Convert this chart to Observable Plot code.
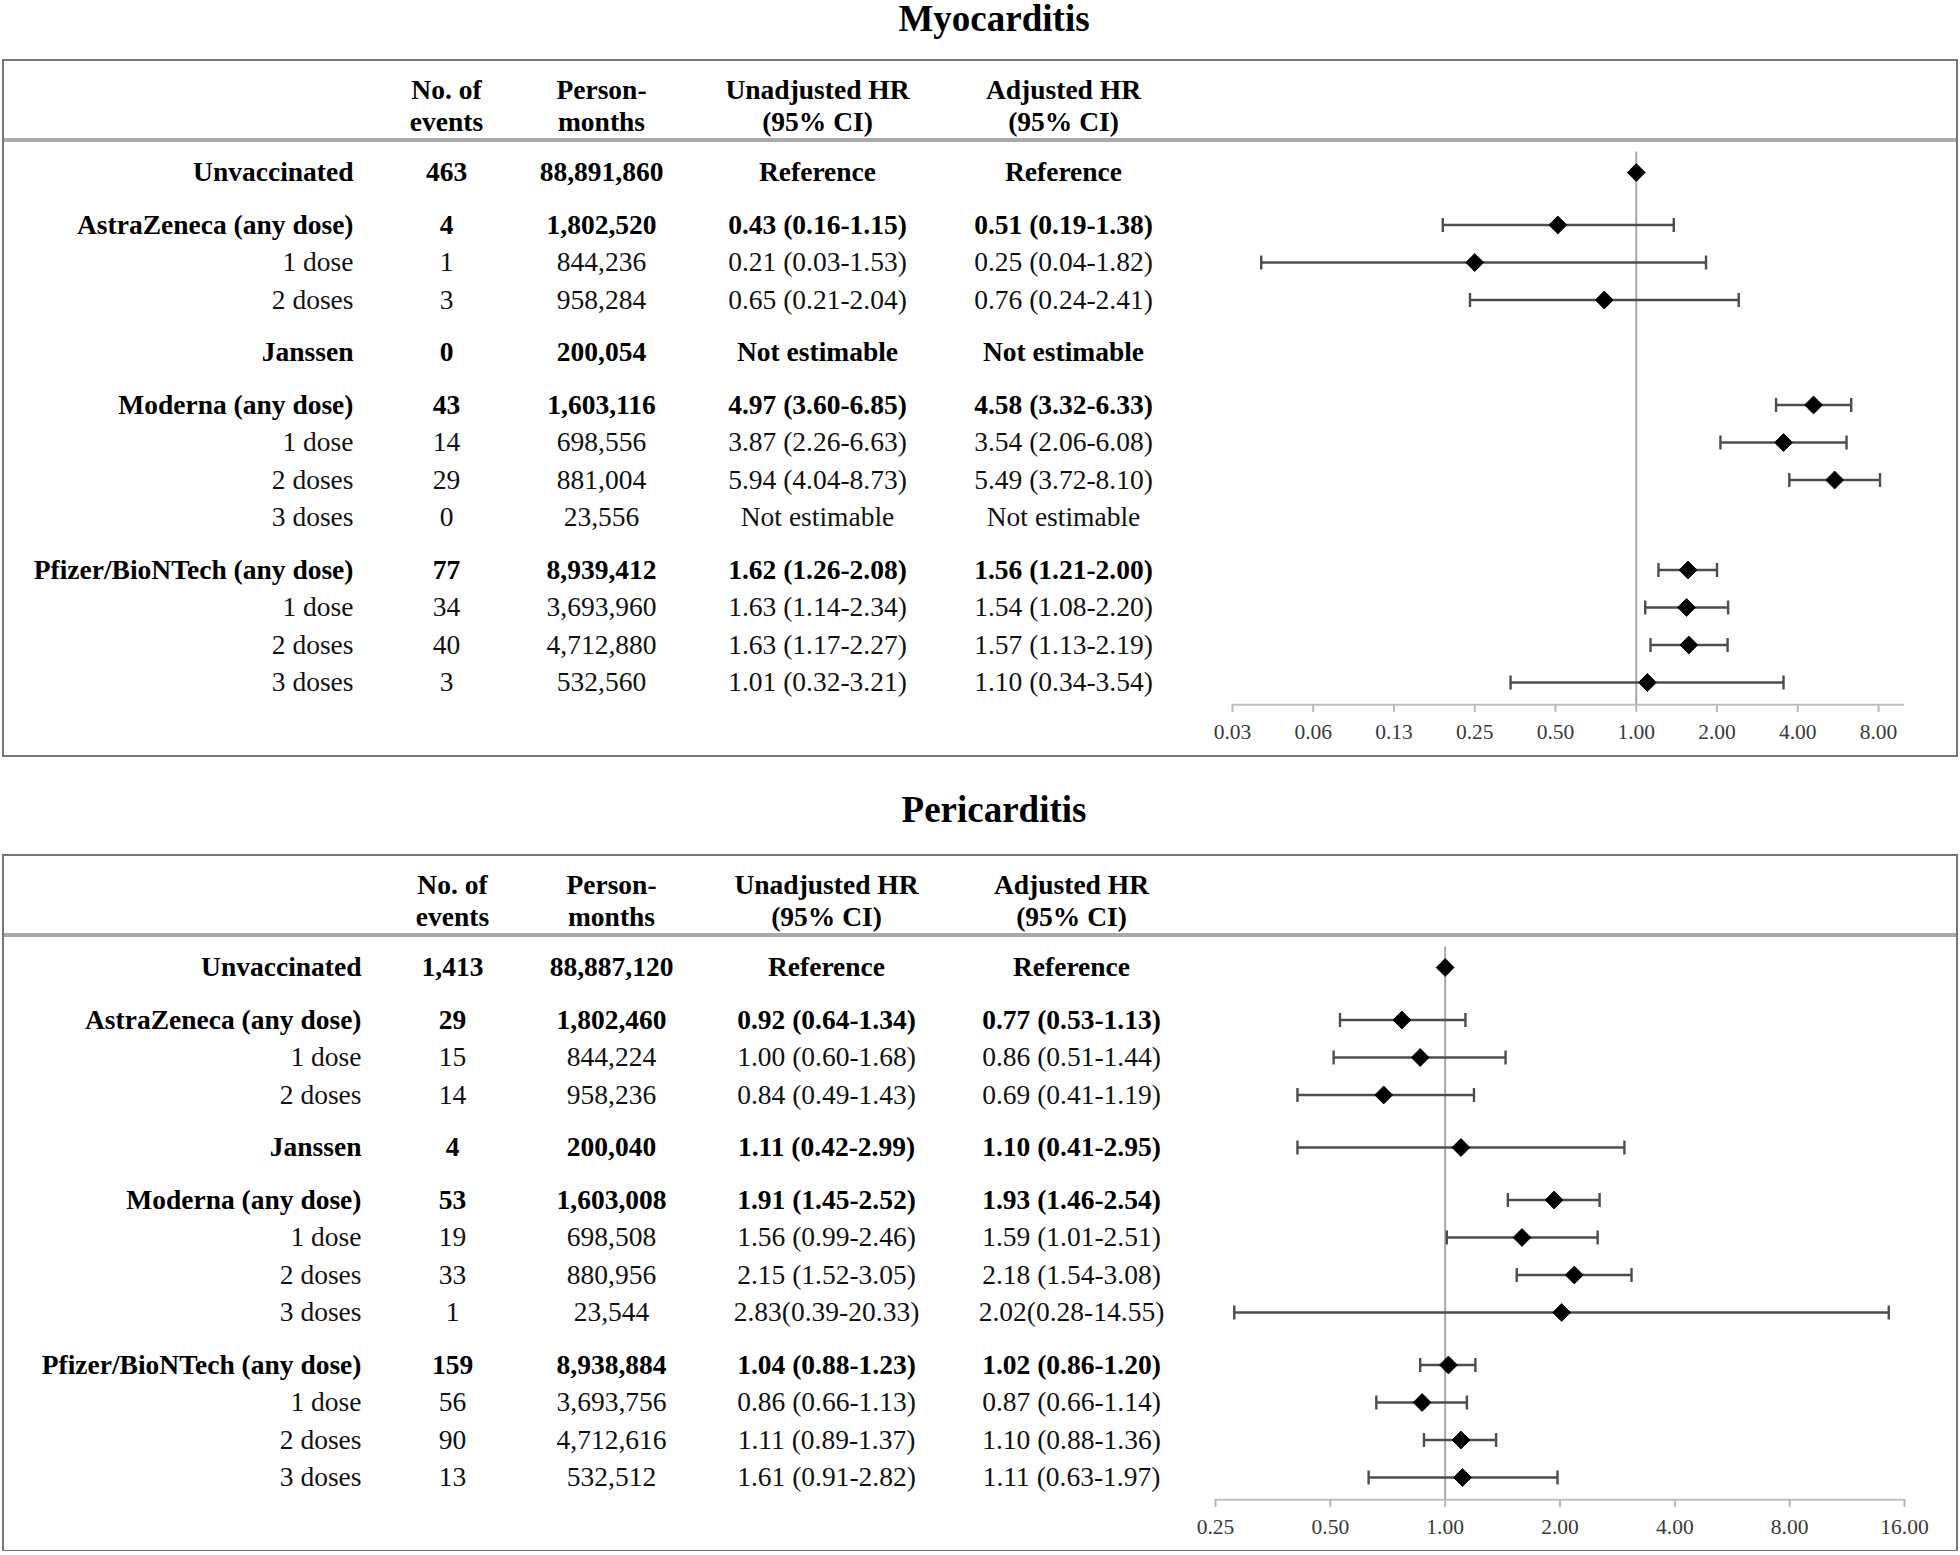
<!DOCTYPE html>
<html><head><meta charset="utf-8">
<script src="https://cdn.jsdelivr.net/npm/d3@7"></script>
<script src="https://cdn.jsdelivr.net/npm/@observablehq/plot@0.6"></script>
<style>
body{margin:0;background:#fff;width:1960px;height:1555px;position:relative;overflow:hidden;font-family:"Liberation Serif","Times New Roman",serif;}
.title{position:absolute;left:0;width:1988px;text-align:center;font-weight:bold;font-size:37px;line-height:36px;height:36px;color:#000;}
.box{position:absolute;left:2px;width:1956px;box-sizing:border-box;border:2px solid #777;background:#fff;}
.box svg{display:block;}
</style></head><body>
<div class="title" style="top:1px">Myocarditis</div>
<div class="box" id="b1" style="top:59px;height:698px"></div>
<div class="title" style="top:792px">Pericarditis</div>
<div class="box" id="b2" style="top:854px;height:697px"></div>
<script>
// ---- shared categories ----
const rowLabels = ["Unvaccinated","AstraZeneca (any dose)","1 dose","2 doses","Janssen","Moderna (any dose)","1 dose","2 doses","3 doses","Pfizer/BioNTech (any dose)","1 dose","2 doses","3 doses"];
const rowIsGroup = [true,true,false,false,true,true,false,false,false,true,false,false,false];
const headerLabels = ["No. of\nevents","Person-\nmonths","Unadjusted HR\n(95% CI)","Adjusted HR\n(95% CI)"];

// ---- Myocarditis ----
const myoEvents = ["463","4","1","3","0","43","14","29","0","77","34","40","3"];
const myoPersonMonths = ["88,891,860","1,802,520","844,236","958,284","200,054","1,603,116","698,556","881,004","23,556","8,939,412","3,693,960","4,712,880","532,560"];
const myoUnadjusted = ["Reference","0.43 (0.16-1.15)","0.21 (0.03-1.53)","0.65 (0.21-2.04)","Not estimable","4.97 (3.60-6.85)","3.87 (2.26-6.63)","5.94 (4.04-8.73)","Not estimable","1.62 (1.26-2.08)","1.63 (1.14-2.34)","1.63 (1.17-2.27)","1.01 (0.32-3.21)"];
const myoAdjusted = ["Reference","0.51 (0.19-1.38)","0.25 (0.04-1.82)","0.76 (0.24-2.41)","Not estimable","4.58 (3.32-6.33)","3.54 (2.06-6.08)","5.49 (3.72-8.10)","Not estimable","1.56 (1.21-2.00)","1.54 (1.08-2.20)","1.57 (1.13-2.19)","1.10 (0.34-3.54)"];
const myoHR = [1,0.51,0.25,0.76,null,4.58,3.54,5.49,null,1.56,1.54,1.57,1.10];
const myoLo = [null,0.19,0.04,0.24,null,3.32,2.06,3.72,null,1.21,1.08,1.13,0.34];
const myoHi = [null,1.38,1.82,2.41,null,6.33,6.08,8.10,null,2.00,2.20,2.19,3.54];
const myoTicks = [1/32,1/16,1/8,1/4,1/2,1,2,4,8];
const myoTickLabels = ["0.03","0.06","0.13","0.25","0.50","1.00","2.00","4.00","8.00"];
const myoDomain = [1/32, 10];

// ---- Pericarditis ----
const periEvents = ["1,413","29","15","14","4","53","19","33","1","159","56","90","13"];
const periPersonMonths = ["88,887,120","1,802,460","844,224","958,236","200,040","1,603,008","698,508","880,956","23,544","8,938,884","3,693,756","4,712,616","532,512"];
const periUnadjusted = ["Reference","0.92 (0.64-1.34)","1.00 (0.60-1.68)","0.84 (0.49-1.43)","1.11 (0.42-2.99)","1.91 (1.45-2.52)","1.56 (0.99-2.46)","2.15 (1.52-3.05)","2.83(0.39-20.33)","1.04 (0.88-1.23)","0.86 (0.66-1.13)","1.11 (0.89-1.37)","1.61 (0.91-2.82)"];
const periAdjusted = ["Reference","0.77 (0.53-1.13)","0.86 (0.51-1.44)","0.69 (0.41-1.19)","1.10 (0.41-2.95)","1.93 (1.46-2.54)","1.59 (1.01-2.51)","2.18 (1.54-3.08)","2.02(0.28-14.55)","1.02 (0.86-1.20)","0.87 (0.66-1.14)","1.10 (0.88-1.36)","1.11 (0.63-1.97)"];
const periHR = [1,0.77,0.86,0.69,1.10,1.93,1.59,2.18,2.02,1.02,0.87,1.10,1.11];
const periLo = [null,0.53,0.51,0.41,0.41,1.46,1.01,1.54,0.28,0.86,0.66,0.88,0.63];
const periHi = [null,1.13,1.44,1.19,2.95,2.54,2.51,3.08,14.55,1.20,1.14,1.36,1.97];
const periTicks = [0.25,0.5,1,2,4,8,16];
const periTickLabels = ["0.25","0.50","1.00","2.00","4.00","8.00","16.00"];
const periDomain = [0.25, 16];

// ---- layout ----
const W = 1952, H = 694;
const FONT = "'Liberation Serif','Times New Roman',serif";
const slots = [];
{ let s = 0; rowIsGroup.forEach((g, i) => { if (i > 0) s += g ? 1.4 : 1; slots.push(s); }); }
const SLOT_HEADER_TEXT = -1.81, SLOT_HEADER_LINE = -0.87, SLOT_REF_TOP = -0.55, SLOT_AXIS = 14.19;

const capSymbol = { draw(ctx, size) { const h = Math.sqrt(size / Math.PI); ctx.moveTo(0, -h); ctx.lineTo(0, h); } };

function panel(spec) {
  const rows = rowLabels.map((label, i) => ({
    label, group: rowIsGroup[i], slot: slots[i],
    events: spec.events[i], pm: spec.pm[i], unadj: spec.unadj[i], adj: spec.adj[i],
    hr: spec.hr[i], lo: spec.lo[i], hi: spec.hi[i]
  }));
  const cols = [
    {key: "label", dx: spec.colX[0], anchor: "end"},
    {key: "events", dx: spec.colX[1], anchor: "middle", header: headerLabels[0]},
    {key: "pm", dx: spec.colX[2], anchor: "middle", header: headerLabels[1]},
    {key: "unadj", dx: spec.colX[3], anchor: "middle", header: headerLabels[2]},
    {key: "adj", dx: spec.colX[4], anchor: "middle", header: headerLabels[3]}
  ];
  const marks = [];
  marks.push(Plot.ruleY([SLOT_HEADER_LINE], {stroke: "#a9a9a9", strokeWidth: 4}));
  for (const c of cols) {
    if (c.header) marks.push(Plot.text([c.header], {text: d => d, y: () => SLOT_HEADER_TEXT, frameAnchor: "left", dx: c.dx, textAnchor: "middle", lineHeight: 1.17, fontSize: 27.5, fontWeight: "bold", fontFamily: FONT, fill: "#000"}));
    marks.push(Plot.text(rows, {filter: d => d.group, text: c.key, y: "slot", frameAnchor: "left", dx: c.dx, textAnchor: c.anchor, fontSize: 27.5, fontWeight: "bold", fontFamily: FONT, fill: "#000"}));
    marks.push(Plot.text(rows, {filter: d => !d.group, text: c.key, y: "slot", frameAnchor: "left", dx: c.dx, textAnchor: c.anchor, fontSize: 27.5, fontFamily: FONT, fill: "#111"}));
  }
  const ci = rows.filter(d => d.lo != null && d.hi != null);
  marks.push(
    Plot.ruleX([1], {y1: () => SLOT_REF_TOP, y2: () => SLOT_AXIS, stroke: "#a8a8a8", strokeWidth: 2}),
    Plot.ruleY([SLOT_AXIS], {x1: () => spec.domain[0], x2: () => spec.domain[1], stroke: "#c0c0c0", strokeWidth: 2}),
    Plot.axisX(spec.ticks, {anchor: "bottom", tickSize: 8, tickFormat: () => "", color: "#b8b8b8", strokeWidth: 2}),
    Plot.axisX(spec.ticks, {anchor: "bottom", tickSize: 0, tickPadding: 19, tickFormat: d => spec.tickLabels[spec.ticks.indexOf(d)], color: "#3a3a3a", fontSize: 21.5, fontFamily: FONT}),
    Plot.ruleY(ci, {y: "slot", x1: "lo", x2: "hi", stroke: "#4d4d4d", strokeWidth: 2.4}),
    Plot.dot(ci, {x: "lo", y: "slot", symbol: capSymbol, r: 7, stroke: "#4d4d4d", strokeWidth: 2.4, fill: "none"}),
    Plot.dot(ci, {x: "hi", y: "slot", symbol: capSymbol, r: 7, stroke: "#4d4d4d", strokeWidth: 2.4, fill: "none"}),
    Plot.dot(rows.filter(d => d.hr != null), {x: "hr", y: "slot", symbol: "diamond2", r: 8, fill: "#000", stroke: "#000", strokeWidth: 1})
  );
  return Plot.plot({
    width: W, height: H,
    marginLeft: 0, marginRight: 0, marginTop: 0, marginBottom: 51,
    style: {fontFamily: FONT, background: "#fff", color: "#000", overflow: "visible"},
    x: {type: "log", base: 2, domain: spec.domain, range: spec.xRange},
    y: {type: "linear", domain: [0, slots[slots.length - 1]], range: [111, 111 + 37.5 * slots[slots.length - 1]], axis: null},
    marks
  });
}

document.getElementById("b1").appendChild(panel({
  events: myoEvents, pm: myoPersonMonths, unadj: myoUnadjusted, adj: myoAdjusted,
  hr: myoHR, lo: myoLo, hi: myoHi, ticks: myoTicks, tickLabels: myoTickLabels, domain: myoDomain,
  colX: [349, 442, 597, 813, 1059], xRange: [1228, 1900]
}));
document.getElementById("b2").appendChild(panel({
  events: periEvents, pm: periPersonMonths, unadj: periUnadjusted, adj: periAdjusted,
  hr: periHR, lo: periLo, hi: periHi, ticks: periTicks, tickLabels: periTickLabels, domain: periDomain,
  colX: [357, 448, 607, 822, 1067], xRange: [1211, 1900]
}));
</script>
</body></html>
